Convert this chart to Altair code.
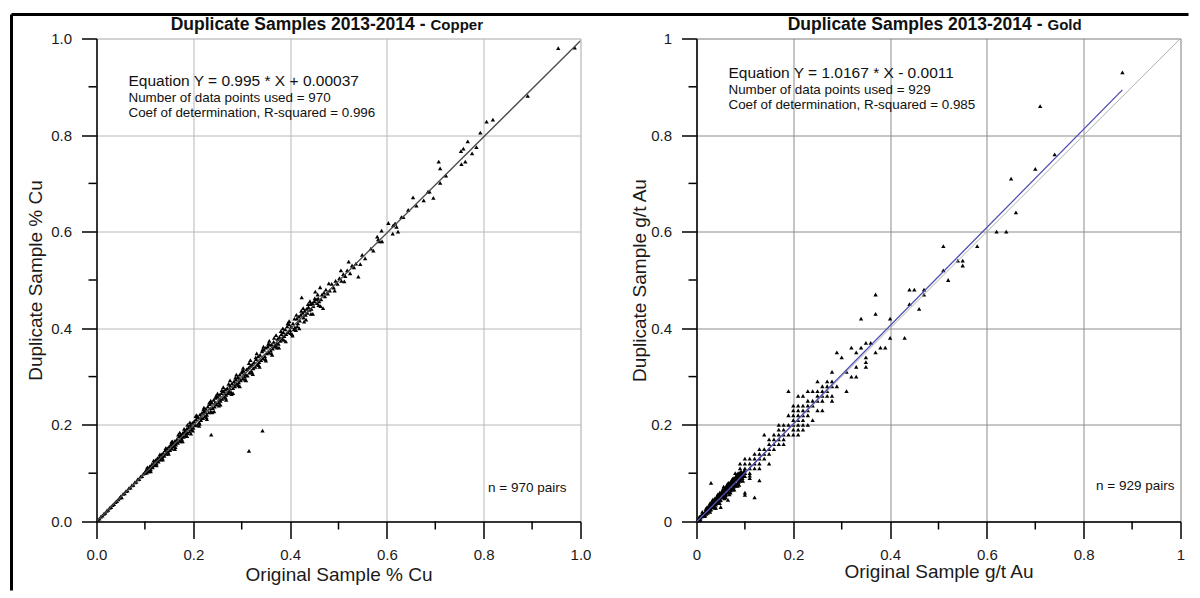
import altair as alt
import pandas as pd

FONT = "Liberation Sans"

# ---------------- Copper (original %Cu, duplicate %Cu) ----------------
cu_dense = [
    (0.003, 0.004), (0.006, 0.006), (0.009, 0.010), (0.012, 0.012), (0.015, 0.016),
    (0.018, 0.018), (0.021, 0.022), (0.024, 0.024), (0.027, 0.028), (0.030, 0.030),
    (0.033, 0.034), (0.036, 0.036), (0.039, 0.040), (0.042, 0.042), (0.045, 0.046),
    (0.048, 0.049), (0.050, 0.052), (0.052, 0.050), (0.055, 0.057), (0.058, 0.058),
    (0.061, 0.063), (0.064, 0.064), (0.067, 0.069), (0.070, 0.070), (0.073, 0.075),
    (0.076, 0.076), (0.079, 0.081), (0.082, 0.082), (0.085, 0.087), (0.088, 0.088),
    (0.091, 0.093), (0.094, 0.094), (0.097, 0.099), (0.100, 0.100), (0.102, 0.106),
    (0.104, 0.101), (0.106, 0.109), (0.108, 0.104), (0.110, 0.114), (0.112, 0.108),
    (0.114, 0.118), (0.116, 0.112), (0.118, 0.121), (0.120, 0.117), (0.122, 0.127),
    (0.124, 0.120), (0.126, 0.131), (0.128, 0.124), (0.130, 0.134), (0.132, 0.128),
    (0.134, 0.139), (0.136, 0.132), (0.138, 0.142), (0.140, 0.136), (0.142, 0.148),
    (0.144, 0.140), (0.146, 0.152), (0.148, 0.144), (0.150, 0.155), (0.152, 0.148),
    (0.154, 0.160), (0.156, 0.151), (0.158, 0.162), (0.160, 0.156), (0.162, 0.167),
    (0.164, 0.159), (0.166, 0.170), (0.168, 0.163), (0.170, 0.176), (0.172, 0.167),
    (0.174, 0.179), (0.176, 0.171), (0.178, 0.183), (0.180, 0.175), (0.182, 0.187),
    (0.184, 0.179), (0.186, 0.192), (0.188, 0.183), (0.190, 0.195), (0.192, 0.186),
    (0.194, 0.200), (0.196, 0.190), (0.198, 0.204), (0.200, 0.194), (0.202, 0.208),
    (0.204, 0.199), (0.206, 0.212), (0.208, 0.200), (0.210, 0.216), (0.212, 0.205),
    (0.105, 0.105), (0.115, 0.115), (0.125, 0.125), (0.135, 0.136), (0.145, 0.145),
    (0.155, 0.156), (0.165, 0.165), (0.175, 0.176), (0.185, 0.185), (0.195, 0.196),
]
cu_mid = [
    (0.214, 0.222), (0.216, 0.210), (0.218, 0.225), (0.220, 0.214), (0.222, 0.228),
    (0.224, 0.218), (0.226, 0.233), (0.228, 0.221), (0.230, 0.238), (0.232, 0.226),
    (0.234, 0.243), (0.236, 0.228), (0.238, 0.246), (0.240, 0.235), (0.242, 0.252),
    (0.244, 0.238), (0.246, 0.256), (0.248, 0.242), (0.250, 0.258), (0.252, 0.246),
    (0.254, 0.262), (0.256, 0.250), (0.258, 0.266), (0.260, 0.254), (0.262, 0.270),
    (0.264, 0.258), (0.266, 0.273), (0.268, 0.262), (0.270, 0.276), (0.272, 0.266),
    (0.274, 0.270), (0.276, 0.282), (0.278, 0.268), (0.280, 0.286), (0.282, 0.276),
    (0.284, 0.290), (0.286, 0.280), (0.288, 0.294), (0.290, 0.285), (0.292, 0.299),
    (0.294, 0.288), (0.296, 0.304), (0.298, 0.292), (0.300, 0.308), (0.302, 0.296),
    (0.304, 0.312), (0.306, 0.300), (0.308, 0.305), (0.310, 0.315), (0.312, 0.302),
    (0.215, 0.215), (0.225, 0.226), (0.235, 0.234), (0.245, 0.246), (0.255, 0.254),
    (0.265, 0.266), (0.275, 0.275), (0.285, 0.284), (0.295, 0.296), (0.305, 0.304),
    (0.314, 0.318), (0.316, 0.308), (0.318, 0.322), (0.320, 0.312), (0.322, 0.326),
    (0.324, 0.317), (0.326, 0.330), (0.328, 0.320), (0.330, 0.336), (0.332, 0.325),
    (0.334, 0.342), (0.336, 0.330), (0.338, 0.345), (0.340, 0.334), (0.342, 0.352),
    (0.344, 0.338), (0.346, 0.356), (0.348, 0.342), (0.350, 0.360), (0.352, 0.348),
    (0.354, 0.362), (0.356, 0.350), (0.358, 0.366), (0.360, 0.354), (0.362, 0.366),
    (0.364, 0.358), (0.366, 0.372), (0.368, 0.362), (0.370, 0.365), (0.372, 0.370),
    (0.374, 0.378), (0.376, 0.368), (0.378, 0.382), (0.380, 0.374), (0.382, 0.388),
    (0.384, 0.378), (0.386, 0.392), (0.388, 0.384), (0.390, 0.398), (0.392, 0.388),
    (0.394, 0.404), (0.396, 0.392), (0.398, 0.408), (0.400, 0.396), (0.402, 0.403),
    (0.404, 0.388), (0.406, 0.410), (0.408, 0.398), (0.410, 0.402), (0.412, 0.396),
    (0.414, 0.420), (0.416, 0.410), (0.418, 0.424), (0.420, 0.416), (0.422, 0.428),
    (0.424, 0.464), (0.426, 0.432), (0.428, 0.422), (0.430, 0.436), (0.432, 0.428),
    (0.434, 0.440), (0.436, 0.432), (0.438, 0.444), (0.440, 0.438), (0.442, 0.450),
    (0.444, 0.440), (0.446, 0.452), (0.448, 0.446), (0.450, 0.456), (0.452, 0.476),
    (0.454, 0.460), (0.456, 0.452), (0.458, 0.462), (0.460, 0.456), (0.462, 0.485),
    (0.464, 0.460), (0.466, 0.470), (0.468, 0.442), (0.470, 0.474), (0.472, 0.466),
]
cu_spread = [
    (0.155, 0.165), (0.162, 0.150), (0.172, 0.184), (0.178, 0.166), (0.188, 0.200),
    (0.195, 0.182), (0.205, 0.218), (0.212, 0.198), (0.222, 0.236), (0.228, 0.212),
    (0.236, 0.250), (0.243, 0.228), (0.250, 0.265), (0.256, 0.242), (0.262, 0.278),
    (0.268, 0.252), (0.276, 0.292), (0.282, 0.266), (0.289, 0.304), (0.296, 0.280),
    (0.303, 0.318), (0.309, 0.292), (0.318, 0.334), (0.323, 0.305), (0.331, 0.348),
    (0.337, 0.320), (0.345, 0.362), (0.350, 0.333), (0.357, 0.374), (0.363, 0.345),
    (0.371, 0.386), (0.377, 0.360), (0.385, 0.400), (0.391, 0.373), (0.398, 0.415),
    (0.405, 0.385), (0.413, 0.428), (0.419, 0.400), (0.427, 0.442), (0.433, 0.418),
    (0.441, 0.456), (0.447, 0.430), (0.457, 0.470), (0.463, 0.446), (0.480, 0.493),
    (0.492, 0.478), (0.505, 0.520), (0.512, 0.497),
    (0.105, 0.112), (0.112, 0.104), (0.118, 0.126), (0.124, 0.116), (0.131, 0.139),
    (0.137, 0.128), (0.143, 0.152), (0.149, 0.140), (0.157, 0.166), (0.163, 0.154),
    (0.169, 0.180), (0.175, 0.166), (0.181, 0.192), (0.187, 0.177), (0.193, 0.205),
    (0.199, 0.188), (0.207, 0.220), (0.213, 0.202), (0.221, 0.232), (0.227, 0.216),
    (0.233, 0.246), (0.239, 0.226), (0.247, 0.260), (0.253, 0.240), (0.259, 0.272),
    (0.267, 0.256), (0.273, 0.285), (0.279, 0.264), (0.287, 0.298), (0.293, 0.282),
    (0.301, 0.312), (0.307, 0.294), (0.315, 0.328), (0.321, 0.308), (0.329, 0.340),
    (0.335, 0.324), (0.343, 0.356), (0.349, 0.336), (0.355, 0.368), (0.361, 0.348),
    (0.367, 0.380), (0.373, 0.360), (0.381, 0.394), (0.387, 0.376), (0.395, 0.410),
    (0.401, 0.390), (0.409, 0.420), (0.415, 0.404), (0.423, 0.436), (0.429, 0.414),
    (0.437, 0.450), (0.443, 0.430), (0.451, 0.462), (0.459, 0.448),
]
cu_upper = [
    (0.474, 0.480), (0.478, 0.472), (0.482, 0.478), (0.486, 0.492), (0.490, 0.484),
    (0.494, 0.498), (0.498, 0.492), (0.502, 0.504), (0.506, 0.498), (0.510, 0.512),
    (0.514, 0.508), (0.518, 0.520), (0.521, 0.538), (0.524, 0.514), (0.528, 0.530),
    (0.532, 0.526), (0.536, 0.534), (0.545, 0.533), (0.541, 0.507), (0.549, 0.552),
    (0.555, 0.545), (0.567, 0.565), (0.572, 0.561), (0.580, 0.590), (0.582, 0.584),
    (0.585, 0.580), (0.589, 0.602), (0.590, 0.580), (0.603, 0.618), (0.612, 0.596),
    (0.613, 0.613), (0.617, 0.617), (0.620, 0.610), (0.623, 0.600), (0.630, 0.630),
    (0.634, 0.630), (0.644, 0.645), (0.654, 0.671), (0.661, 0.654), (0.676, 0.665),
    (0.685, 0.683), (0.688, 0.683), (0.696, 0.670), (0.707, 0.745), (0.710, 0.731),
    (0.710, 0.701), (0.722, 0.716), (0.753, 0.767), (0.754, 0.740), (0.758, 0.772),
    (0.762, 0.745), (0.767, 0.787), (0.776, 0.762), (0.785, 0.775), (0.793, 0.805),
    (0.806, 0.828), (0.819, 0.832), (0.891, 0.881), (0.954, 0.980), (0.988, 0.981),
]
cu_outliers = [(0.237, 0.180), (0.343, 0.188), (0.315, 0.146)]

# ---------------- Gold (original g/t Au, duplicate g/t Au) ----------------
au_blob = [
    (0.002, 0.002), (0.004, 0.005), (0.005, 0.003), (0.006, 0.007), (0.008, 0.008),
    (0.010, 0.010), (0.010, 0.013), (0.012, 0.011), (0.014, 0.015), (0.015, 0.012),
    (0.016, 0.018), (0.018, 0.020), (0.020, 0.020), (0.020, 0.016), (0.020, 0.024),
    (0.022, 0.023), (0.024, 0.026), (0.025, 0.022), (0.025, 0.030), (0.026, 0.028),
    (0.028, 0.030), (0.030, 0.030), (0.030, 0.026), (0.030, 0.034), (0.032, 0.035),
    (0.034, 0.036), (0.035, 0.030), (0.035, 0.040), (0.036, 0.038), (0.038, 0.042),
    (0.040, 0.040), (0.040, 0.035), (0.040, 0.045), (0.042, 0.046), (0.044, 0.048),
    (0.045, 0.040), (0.045, 0.050), (0.046, 0.044), (0.048, 0.052), (0.050, 0.050),
    (0.050, 0.045), (0.050, 0.056), (0.052, 0.055), (0.054, 0.058), (0.055, 0.050),
    (0.055, 0.062), (0.056, 0.054), (0.058, 0.062), (0.060, 0.060), (0.060, 0.066),
    (0.060, 0.054), (0.062, 0.068), (0.064, 0.066), (0.065, 0.060), (0.065, 0.072),
    (0.066, 0.070), (0.068, 0.074), (0.070, 0.070), (0.070, 0.064), (0.070, 0.078),
    (0.072, 0.076), (0.074, 0.080), (0.075, 0.070), (0.075, 0.084), (0.076, 0.078),
    (0.078, 0.082), (0.080, 0.080), (0.080, 0.074), (0.080, 0.088), (0.082, 0.086),
    (0.084, 0.090), (0.085, 0.080), (0.085, 0.094), (0.086, 0.088), (0.088, 0.092),
    (0.090, 0.090), (0.090, 0.084), (0.090, 0.098), (0.092, 0.096), (0.094, 0.100),
    (0.095, 0.090), (0.096, 0.100), (0.098, 0.102), (0.100, 0.100), (0.100, 0.094),
    (0.060, 0.050), (0.045, 0.038), (0.070, 0.060), (0.085, 0.074), (0.075, 0.066),
    (0.012, 0.020), (0.018, 0.012), (0.022, 0.030), (0.028, 0.020), (0.032, 0.042),
    (0.038, 0.028), (0.042, 0.052), (0.048, 0.038), (0.052, 0.062), (0.058, 0.048),
    (0.062, 0.074), (0.068, 0.056), (0.072, 0.084), (0.078, 0.066), (0.082, 0.094),
    (0.088, 0.076), (0.092, 0.104), (0.096, 0.084), (0.034, 0.046), (0.044, 0.056),
    (0.054, 0.066), (0.064, 0.078), (0.074, 0.088), (0.084, 0.098), (0.056, 0.072),
    (0.006, 0.010), (0.008, 0.004), (0.013, 0.017), (0.016, 0.011), (0.019, 0.026),
    (0.023, 0.018), (0.027, 0.034), (0.029, 0.024), (0.033, 0.038), (0.037, 0.032),
    (0.041, 0.048), (0.043, 0.038), (0.047, 0.056), (0.049, 0.044), (0.053, 0.060),
    (0.057, 0.052), (0.059, 0.070), (0.061, 0.056), (0.063, 0.072), (0.067, 0.062),
    (0.069, 0.080), (0.071, 0.066), (0.073, 0.082), (0.077, 0.072), (0.079, 0.090),
    (0.081, 0.076), (0.083, 0.092), (0.087, 0.082), (0.089, 0.100), (0.091, 0.086),
    (0.093, 0.092), (0.097, 0.094), (0.099, 0.106), (0.058, 0.068), (0.048, 0.060),
    (0.038, 0.048), (0.066, 0.080), (0.076, 0.090), (0.086, 0.100), (0.028, 0.038),
]
au_stray = [
    (0.030, 0.080), (0.100, 0.060), (0.100, 0.055), (0.120, 0.050), (0.130, 0.085),
    (0.110, 0.095), (0.110, 0.090), (0.050, 0.030), (0.040, 0.028), (0.065, 0.045),
]
au_grid = [
    (0.08, 0.10), (0.09, 0.10), (0.10, 0.10), (0.11, 0.10),
    (0.09, 0.11), (0.10, 0.11), (0.11, 0.11), (0.12, 0.11), (0.13, 0.11),
    (0.09, 0.12), (0.10, 0.12), (0.11, 0.12), (0.12, 0.12), (0.13, 0.12), (0.15, 0.12),
    (0.10, 0.13), (0.11, 0.13), (0.12, 0.13), (0.13, 0.13), (0.14, 0.13),
    (0.12, 0.14), (0.13, 0.14), (0.14, 0.14), (0.15, 0.14),
    (0.13, 0.15), (0.14, 0.15), (0.15, 0.15), (0.16, 0.15),
    (0.15, 0.16), (0.16, 0.16), (0.17, 0.16), (0.18, 0.16),
    (0.15, 0.17), (0.16, 0.17), (0.17, 0.17), (0.18, 0.17),
    (0.14, 0.18), (0.16, 0.18), (0.17, 0.18), (0.18, 0.18), (0.19, 0.18), (0.20, 0.18), (0.21, 0.18),
    (0.17, 0.19), (0.18, 0.19), (0.20, 0.19), (0.21, 0.19), (0.22, 0.19),
    (0.17, 0.20), (0.18, 0.20), (0.19, 0.20), (0.20, 0.20), (0.21, 0.20), (0.22, 0.20), (0.23, 0.20),
    (0.20, 0.21), (0.21, 0.21), (0.22, 0.21), (0.24, 0.21),
    (0.19, 0.22), (0.20, 0.22), (0.21, 0.22), (0.22, 0.22), (0.23, 0.22),
    (0.20, 0.23), (0.21, 0.23), (0.22, 0.23), (0.23, 0.23), (0.25, 0.23), (0.26, 0.23),
    (0.20, 0.24), (0.21, 0.24), (0.22, 0.24), (0.23, 0.24), (0.24, 0.24),
    (0.23, 0.25), (0.24, 0.25), (0.25, 0.25), (0.26, 0.25), (0.28, 0.25),
    (0.21, 0.26), (0.22, 0.26), (0.25, 0.26), (0.26, 0.26), (0.27, 0.26), (0.28, 0.26),
    (0.19, 0.27), (0.23, 0.27), (0.24, 0.27), (0.25, 0.27), (0.26, 0.27), (0.27, 0.27), (0.31, 0.27),
    (0.26, 0.28), (0.27, 0.28), (0.28, 0.28), (0.29, 0.28),
    (0.25, 0.29), (0.27, 0.29), (0.28, 0.29),
    (0.32, 0.30), (0.33, 0.30), (0.28, 0.31), (0.31, 0.31),
    (0.33, 0.32), (0.35, 0.32), (0.35, 0.33), (0.30, 0.34), (0.35, 0.34),
    (0.29, 0.35), (0.33, 0.35), (0.37, 0.35),
    (0.32, 0.36), (0.34, 0.36), (0.38, 0.36), (0.39, 0.36),
    (0.35, 0.37), (0.36, 0.37), (0.40, 0.38), (0.43, 0.38),
]
au_upper = [
    (0.34, 0.42), (0.40, 0.42), (0.37, 0.43), (0.46, 0.44), (0.44, 0.45),
    (0.37, 0.47), (0.47, 0.47), (0.44, 0.48), (0.45, 0.48), (0.47, 0.48),
    (0.52, 0.50), (0.51, 0.52), (0.55, 0.53), (0.54, 0.54), (0.55, 0.54),
    (0.51, 0.57), (0.58, 0.57), (0.62, 0.60), (0.64, 0.60), (0.66, 0.64),
    (0.65, 0.71), (0.70, 0.73), (0.74, 0.76), (0.71, 0.86), (0.88, 0.93),
]

# regression / reference lines (from the printed equations)
cu_fit = [(0.0, 0.00037), (1.0, 0.99537)]
au_fit = [(0.0, -0.0011), (0.88, 0.8936)]
au_one = [(0.0, 0.0), (1.0, 1.0)]

major_ticks = [0, 0.2, 0.4, 0.6, 0.8, 1.0]
minor_ticks = [0.1, 0.3, 0.5, 0.7, 0.9]

SC = alt.Scale(domain=[0, 1], nice=False, zero=True)


def make_axis(title, grid_color, label_expr, orient, title_pad):
    if orient == "x":
        tsize, lpad = 17, 9
    else:
        tsize, lpad = 15, 10
    return alt.Axis(
        values=major_ticks, labelExpr=label_expr, tickSize=tsize,
        tickColor="black", tickWidth=1.5, domainColor="black", domainWidth=1.5,
        grid=True, gridColor=grid_color, gridWidth=1,
        labelFont=FONT, labelFontSize=15, labelColor="#1a1a1a", labelPadding=lpad,
        labelFlush=False, labelOverlap=False, labelBound=False,
        title=title, titleFont=FONT, titleFontSize=19, titleFontWeight="normal",
        titleColor="#1a1a1a", titlePadding=title_pad,
    )


def text_layer(txt, x, y, size, weight="normal", align="left"):
    return alt.Chart(alt.Data(values=[{}])).mark_text(
        font=FONT, fontSize=size, fontWeight=weight, align=align,
        baseline="alphabetic", color="#111111",
    ).encode(x=alt.value(x), y=alt.value(y), text=alt.value(txt))


def minor_tick_layers():
    mdf_x = pd.DataFrame({"original": minor_ticks})
    mdf_y = pd.DataFrame({"duplicate": minor_ticks})
    tx = alt.Chart(mdf_x).mark_rule(color="black", strokeWidth=1.5).encode(
        x=alt.X("original:Q", scale=SC),
        y=alt.value(483), y2=alt.value(491))
    ty = alt.Chart(mdf_y).mark_rule(color="black", strokeWidth=1.5).encode(
        y=alt.Y("duplicate:Q", scale=SC),
        x=alt.value(0), x2=alt.value(-8))
    return [tx, ty]


def panel(points, lines, xtitle, ytitle, grid_color, label_expr, x_tpad, y_tpad,
          title_main, title_sub, title_x, eq_lines, eq_y, n_text, n_x, n_y, extra):
    df = pd.DataFrame(points, columns=["original", "duplicate"])
    pts = alt.Chart(df).mark_point(
        shape="triangle-up", filled=True, size=19, color="black", opacity=1
    ).encode(
        x=alt.X("original:Q", scale=SC,
                axis=make_axis(xtitle, grid_color, label_expr, "x", x_tpad)),
        y=alt.Y("duplicate:Q", scale=SC,
                axis=make_axis(ytitle, grid_color, label_expr, "y", y_tpad)),
    )
    layers = [pts]
    for data, color, width in lines:
        ldf = pd.DataFrame(data, columns=["original", "duplicate"])
        layers.append(
            alt.Chart(ldf).mark_line(color=color, strokeWidth=width, clip=True)
            .encode(x=alt.X("original:Q", scale=SC),
                    y=alt.Y("duplicate:Q", scale=SC))
        )
    layers += minor_tick_layers()
    layers.append(text_layer(title_main, title_x, -9, 17.5, "bold", "right"))
    layers.append(text_layer(title_sub, title_x + 5, -9, 15, "bold", "left"))
    layers.append(text_layer(eq_lines[0], 32, eq_y, 15.5))
    layers.append(text_layer(eq_lines[1], 32, eq_y + 16, 13.4))
    layers.append(text_layer(eq_lines[2], 32, eq_y + 31, 13.4))
    layers.append(text_layer(n_text, n_x, n_y, 13.5, align="right"))
    layers += extra
    return alt.layer(*layers).properties(width=484, height=483)


border = alt.Data(values=[{}])
left_border = alt.Chart(border).mark_rule(color="black", strokeWidth=3).encode(
    x=alt.value(-85), y=alt.value(-24), y2=alt.value(552))
top_border = alt.Chart(border).mark_rule(color="black", strokeWidth=3).encode(
    x=alt.value(-85), x2=alt.value(1092), y=alt.value(-24))

cu_labels = "format(datum.value, '.1f')"
au_labels = "datum.value == 0 ? '0' : (datum.value == 1 ? '1' : format(datum.value, '.1f'))"

left = panel(
    cu_dense + cu_mid + cu_spread + cu_upper + cu_outliers,
    [(cu_fit, "#4a4a4a", 1.3)],
    "Original Sample % Cu", "Duplicate Sample % Cu", "#b8b8b8", cu_labels, 3, 5,
    "Duplicate Samples 2013-2014 -", "Copper", 329,
    ["Equation Y = 0.995 * X + 0.00037", "Number of data points used = 970",
     "Coef of determination, R-squared = 0.996"], 47,
    "n = 970 pairs", 470, 453, [left_border, top_border],
)
right = panel(
    au_blob + au_stray + au_grid + au_upper,
    [(au_one, "#b0b0b0", 1.0), (au_fit, "#4b4bb0", 1.3)],
    "Original Sample g/t Au", "Duplicate Sample g/t Au", "#8c8c8c", au_labels, 0, 1,
    "Duplicate Samples 2013-2014 -", "Gold", 346,
    ["Equation Y = 1.0167 * X - 0.0011", "Number of data points used = 929",
     "Coef of determination, R-squared = 0.985"], 39,
    "n = 929 pairs", 478, 451, [],
)

chart = alt.hconcat(left, right, spacing=116, bounds="flush").properties(
    padding={"left": 1.5, "top": 4.5, "right": 0, "bottom": 0}
).configure_view(stroke=None).configure(font=FONT)

chart.save("out.html", embed_options={"renderer": "svg", "actions": False})
